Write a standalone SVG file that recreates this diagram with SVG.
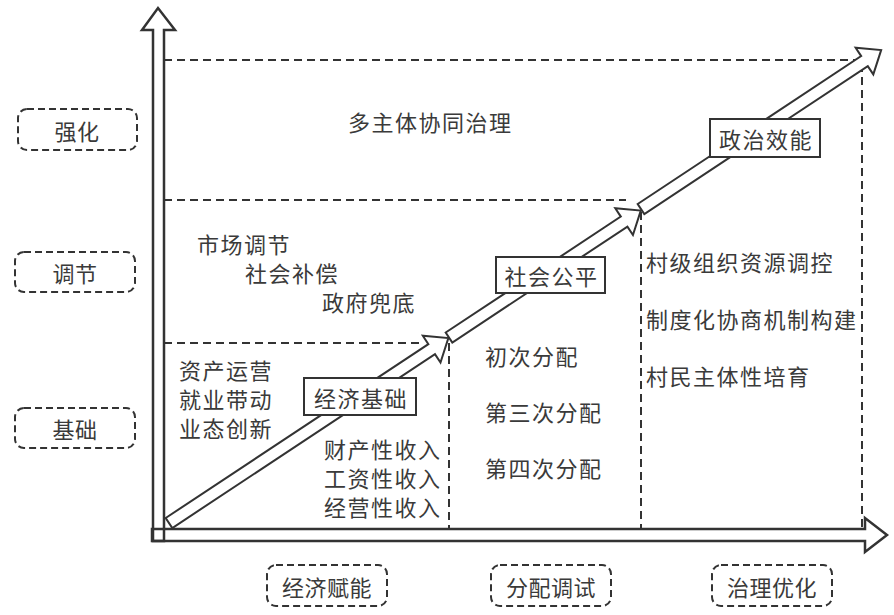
<svg xmlns="http://www.w3.org/2000/svg" width="894" height="615" viewBox="0 0 894 615">
<style>
text{font-family:"Noto Sans CJK SC","Noto Sans",sans-serif;fill:#3a3a3a;dominant-baseline:central}
.t{font-size:22px;letter-spacing:1.5px}
.s{font-size:22px;letter-spacing:0.5px;text-anchor:middle}
.c{text-anchor:middle}
.dash{fill:none;stroke:#333;stroke-width:2;stroke-dasharray:8 5}
.axis{fill:none;stroke:#333;stroke-width:2.5;stroke-linejoin:miter}
.arr{fill:#fff;stroke:#333;stroke-width:2;stroke-linejoin:miter}
.box{fill:#fff;stroke:#333;stroke-width:2}
.lbl{fill:#fff;stroke:#333;stroke-width:2;stroke-dasharray:7 4}
</style>
<rect width="894" height="615" fill="#fff"/>
<g id="connectors">
<path class="dash" d="M164 60H862V529"/>
<path class="dash" d="M164 200H626"/>
<path class="dash" d="M641 212V529"/>
<path class="dash" d="M164 343H420"/>
<path class="dash" d="M449 343V529"/>
<polygon id="y-axis" class="axis" points="153,541 153,30 142,30 158,8 175,30 164,30 164,541"/>
<polygon id="x-axis" class="axis" points="152,541 865,541 865,552 887,535 865,518 865,529 152,529"/>
<polygon id="arrow1" class="arr" transform="translate(169,523) rotate(-33.5)" points="0,-6 315,-6 315,-16 335,0 315,16 315,6 0,6"/>
<polygon id="arrow2" class="arr" transform="translate(449,337.5) rotate(-33.5)" points="0,-6 210,-6 210,-16 230,0 210,16 210,6 0,6"/>
<polygon id="arrow3" class="arr" transform="translate(641,209) rotate(-33.5)" points="0,-6 268,-6 268,-16 288,0 268,16 268,6 0,6"/>
</g>
<g id="node-jjjc"><rect class="box" x="304" y="378" width="112" height="37"/><text class="t c" x="361" y="396.5">经济基础</text></g>
<g id="node-shgp"><rect class="box" x="496" y="257" width="109" height="36"/><text class="t c" x="551.5" y="275">社会公平</text></g>
<g id="node-zzxn"><rect class="box" x="710" y="119" width="110" height="38"/><text class="t c" x="766" y="138">政治效能</text></g>
<g id="label-qh"><rect class="lbl" x="18" y="109" width="119" height="41" rx="9"/><text class="s" x="77" y="129.5">强化</text></g>
<g id="label-tj"><rect class="lbl" x="15" y="252" width="120" height="40" rx="9"/><text class="s" x="75" y="272">调节</text></g>
<g id="label-jc"><rect class="lbl" x="15" y="408" width="120" height="40" rx="9"/><text class="s" x="75" y="428">基础</text></g>
<g id="label-jjfn"><rect class="lbl" x="267" y="565" width="120" height="41" rx="9"/><text class="s" x="327" y="585.5">经济赋能</text></g>
<g id="label-fpts"><rect class="lbl" x="491" y="565" width="120" height="41" rx="9"/><text class="s" x="551" y="585.5">分配调试</text></g>
<g id="label-zlyh"><rect class="lbl" x="712" y="565" width="120" height="41" rx="9"/><text class="s" x="772" y="585.5">治理优化</text></g>
<g id="texts">
<text class="t" x="348" y="121">多主体协同治理</text>
<text class="t" x="197" y="243">市场调节</text>
<text class="t" x="245" y="272">社会补偿</text>
<text class="t" x="322" y="301">政府兜底</text>
<text class="t" x="179" y="369">资产运营</text>
<text class="t" x="179" y="398">就业带动</text>
<text class="t" x="179" y="427">业态创新</text>
<text class="t" x="324" y="447.5">财产性收入</text>
<text class="t" x="324" y="476.5">工资性收入</text>
<text class="t" x="324" y="505.5">经营性收入</text>
<text class="t" x="485" y="355">初次分配</text>
<text class="t" x="485" y="411">第三次分配</text>
<text class="t" x="485" y="467">第四次分配</text>
<text class="t" x="646" y="261">村级组织资源调控</text>
<text class="t" x="646" y="318">制度化协商机制构建</text>
<text class="t" x="646" y="375">村民主体性培育</text>
</g>
</svg>
